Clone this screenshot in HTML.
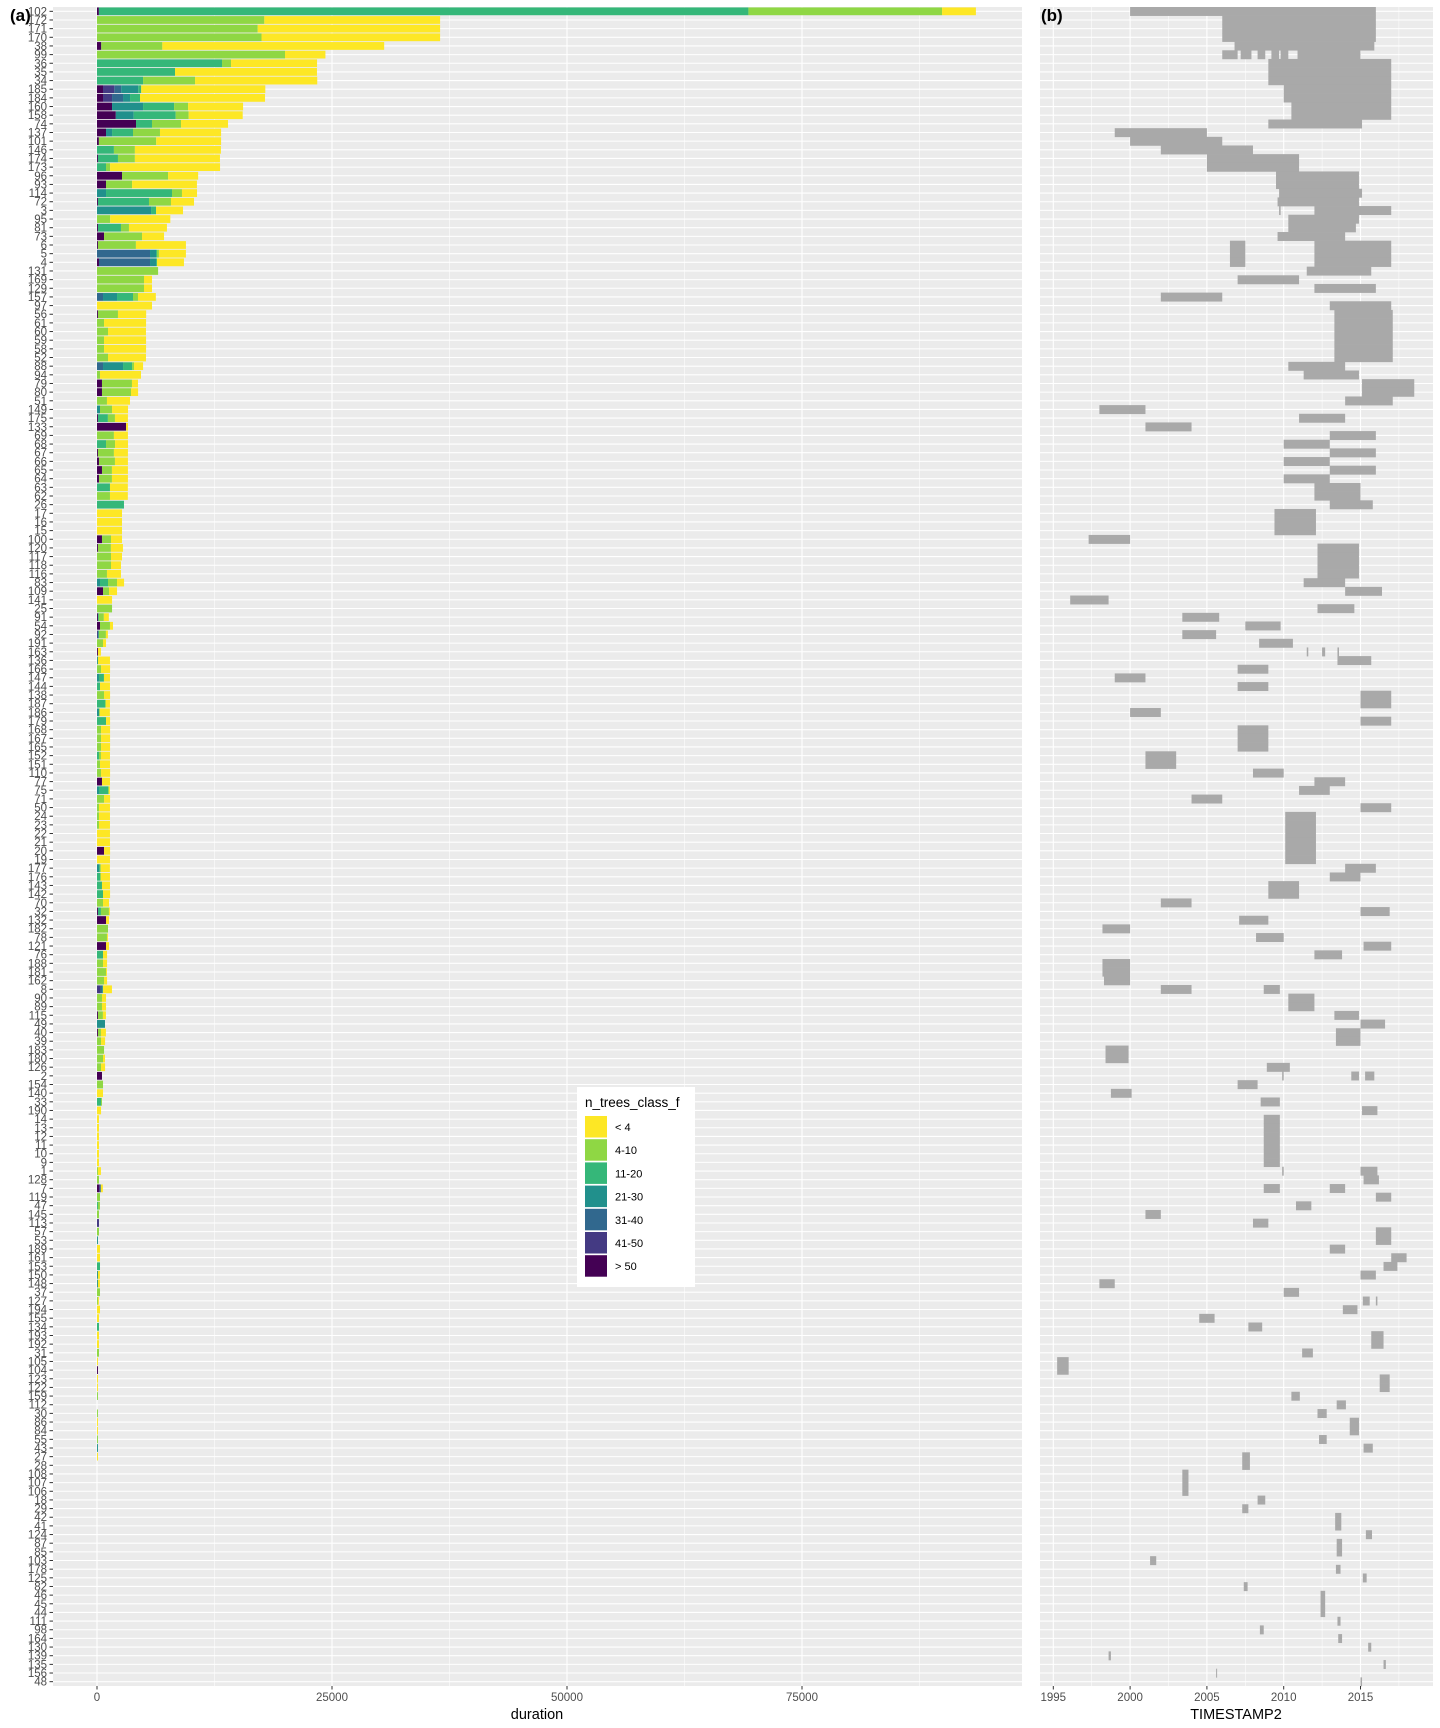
<!DOCTYPE html>
<html><head><meta charset="utf-8"><style>
html,body{margin:0;padding:0;background:#fff;}
svg{display:block;font-family:"Liberation Sans",Arial,sans-serif;}
</style></head><body>
<svg id="chart" width="1440" height="1728" viewBox="0 0 1440 1728" xmlns="http://www.w3.org/2000/svg">
<g id="panelA"></g>
<g id="panelB"></g>
<g id="legend"></g>
</svg>
<script>
const classNames = ["> 50","41-50","31-40","21-30","11-20","4-10","< 4"];
const classColors = ["#440154","#443A83","#31688E","#21908C","#35B779","#8FD744","#FDE725"];
const legendOrder = [6,5,4,3,2,1,0];
const durationTicks = [0,25000,50000,75000];
const yearTicks = [1995,2000,2005,2010,2015];
// categories (top to bottom)
const categories = [102,172,171,170,38,99,36,35,34,185,184,160,158,74,137,101,146,174,173,96,93,114,72,3,95,81,73,6,5,4,131,169,129,157,97,56,61,60,59,58,52,88,94,79,80,51,149,175,133,69,68,67,66,65,64,63,62,26,17,16,15,100,120,117,118,116,83,109,141,25,91,54,92,191,163,136,166,147,144,138,187,186,179,168,167,165,152,151,110,77,75,71,50,24,23,22,21,20,19,177,176,143,142,70,32,132,182,78,121,76,188,181,162,8,90,89,115,49,40,39,183,180,126,2,154,140,33,190,14,13,12,11,10,9,1,128,7,119,47,145,113,57,53,189,161,153,150,148,37,127,194,155,134,193,192,31,105,104,123,122,159,112,30,86,84,55,43,27,28,108,107,106,18,29,42,41,124,87,85,103,178,125,82,46,45,44,111,98,164,130,139,135,156,48];
// duration per class: [>50, 41-50, 31-40, 21-30, 11-20, 4-10, <4]
const durations = {
102:[200,0,0,0,69100,20600,3600],172:[0,0,0,0,0,17800,18700],171:[0,0,0,0,0,17100,19400],170:[0,0,0,0,0,17500,19000],
38:[450,0,0,0,0,6500,23600],99:[0,0,0,0,0,20000,4300],36:[0,0,0,0,13300,960,9150],35:[0,0,0,0,8300,0,15100],
34:[0,0,0,0,4900,5530,13000],185:[640,1200,745,1800,320,0,13200],184:[640,960,1170,745,1060,0,13300],
160:[1600,0,0,3300,3300,1490,5850],158:[2000,0,0,1900,4470,1380,5750],74:[4150,0,0,0,1700,3090,5000],
137:[960,0,0,640,2230,2870,6500],101:[200,0,0,0,0,6100,6900],146:[0,0,0,0,1800,2230,9150],174:[100,0,0,0,2130,1800,9050],
173:[0,0,0,0,960,430,11700],96:[2660,0,0,0,0,4900,3200],93:[960,0,0,0,0,2770,6900],114:[0,0,0,960,7020,1060,1600],
72:[100,0,0,0,5430,2340,2450],3:[0,0,0,5750,530,0,2870],95:[0,0,0,0,0,1400,6400],81:[100,0,0,0,2450,850,4040],
73:[750,0,0,0,0,4040,2340],6:[100,0,0,0,0,4040,5320],5:[0,0,5640,640,100,210,2870],4:[210,0,5430,640,100,0,2870],
131:[0,0,0,0,0,6500,0],169:[0,0,0,0,0,5000,850],129:[0,0,0,0,0,5000,850],157:[0,0,640,1490,1700,530,1900],
97:[0,0,0,0,0,0,5850],56:[100,0,0,0,0,2130,3000],61:[0,0,0,0,0,750,4470],60:[0,0,0,0,0,1170,4040],
59:[0,0,0,0,0,750,4470],58:[0,0,0,0,0,750,4470],52:[0,0,0,0,0,1170,4040],88:[0,0,640,2130,960,210,960],
94:[0,0,0,0,0,320,4360],79:[530,0,0,0,0,3190,640],80:[530,0,0,0,0,3090,750],51:[0,0,0,0,0,1060,2450],
149:[0,0,0,320,0,1280,1700],175:[100,0,0,0,1060,750,1380],133:[3090,0,0,0,0,0,210],69:[0,0,0,0,0,1800,1490],
68:[0,0,0,0,960,960,1380],67:[100,0,0,0,0,1700,1490],66:[210,0,0,0,0,1700,1380],65:[530,0,0,0,0,1060,1700],
64:[210,0,0,0,0,1380,1700],63:[0,0,0,0,1380,0,1900],62:[0,0,0,0,0,1380,1900],26:[0,0,0,0,2870,0,0],
17:[0,0,0,0,0,0,2660],16:[0,0,0,0,0,0,2660],15:[0,0,0,0,0,0,2660],100:[530,0,0,0,0,960,1170],
120:[100,0,0,0,0,1380,1280],117:[0,0,0,0,0,1490,1170],118:[0,0,0,0,0,1490,1060],116:[0,0,0,0,0,1060,1490],
83:[0,0,0,320,850,960,750],109:[640,0,0,0,0,640,850],141:[0,0,0,0,0,0,1600],25:[0,0,0,0,0,1600,0],
91:[100,0,0,0,100,530,530],54:[320,0,0,0,0,1060,320],92:[0,100,0,100,0,750,210],191:[0,0,0,0,0,640,320],
163:[100,0,0,0,0,0,320],136:[0,0,0,100,0,0,1280],166:[0,0,0,0,0,430,960],147:[0,0,0,210,530,0,640],
144:[0,0,0,0,320,0,1060],138:[0,0,0,0,0,750,640],187:[0,0,0,0,850,100,430],186:[0,0,0,210,0,100,1060],
179:[0,0,0,0,960,0,430],168:[0,0,0,0,0,430,960],167:[0,0,0,0,0,430,960],165:[0,0,0,0,0,430,960],
152:[0,0,0,0,210,210,960],151:[0,0,0,0,0,320,1060],110:[0,0,0,0,0,430,960],77:[530,0,0,0,0,0,850],
75:[0,0,0,210,960,100,100],71:[0,0,0,0,0,750,640],50:[0,0,0,0,0,210,1170],24:[0,0,0,0,0,210,1170],
23:[0,0,0,0,0,210,1170],22:[0,0,0,0,0,0,1380],21:[0,0,0,0,0,0,1380],20:[750,0,0,0,0,0,640],19:[0,0,0,0,0,0,1380],
177:[0,0,0,210,100,100,960],176:[0,0,0,0,320,100,960],143:[0,0,0,0,530,0,850],142:[0,0,0,0,640,0,750],
70:[0,0,0,0,0,640,640],32:[100,0,0,0,320,850,100],132:[960,0,0,0,0,0,320],182:[0,0,0,0,0,1170,0],
78:[0,0,0,0,0,1060,100],121:[960,0,0,0,0,0,320],76:[0,0,0,0,640,0,430],188:[0,0,0,0,0,640,430],
181:[0,0,0,0,0,960,100],162:[0,0,0,0,0,750,320],8:[0,320,210,100,0,0,960],90:[0,0,0,0,0,530,430],
89:[0,0,0,0,0,530,430],115:[100,0,0,0,0,530,320],49:[0,0,0,850,0,0,0],40:[100,0,0,0,0,320,530],
39:[0,0,0,0,0,430,430],183:[0,0,0,0,0,750,0],180:[0,0,0,0,0,640,210],126:[0,0,0,0,0,430,430],
2:[530,0,0,0,0,0,0],154:[0,0,0,0,0,640,0],140:[0,0,0,0,0,0,640],33:[0,0,0,0,430,100,0],190:[0,0,0,0,0,0,430],
14:[0,0,0,0,0,0,210],13:[0,0,0,0,0,0,210],12:[0,0,0,0,0,0,210],11:[0,0,0,0,0,0,210],10:[0,0,0,0,0,0,210],9:[0,0,0,0,0,0,210],
1:[0,0,0,0,0,100,320],128:[0,0,0,0,0,210,0],7:[210,100,100,0,0,0,210],119:[0,0,0,0,0,320,0],
47:[0,0,0,0,100,210,0],145:[0,0,0,0,0,210,0],113:[0,210,0,0,0,0,0],57:[0,0,0,0,0,210,0],53:[0,0,0,100,0,0,0],
189:[0,0,0,0,0,0,320],161:[0,0,0,0,0,0,320],153:[0,0,0,0,320,0,0],150:[0,0,0,100,0,0,210],148:[0,0,0,100,0,0,210],
37:[0,0,0,0,0,320,0],127:[0,0,0,0,0,100,100],194:[0,0,0,0,0,0,320],155:[0,0,0,0,0,0,210],134:[0,0,0,0,210,0,0],
193:[0,0,0,0,0,0,210],192:[0,0,0,0,0,0,210],31:[0,0,0,0,0,210,0],105:[0,0,0,0,0,0,100],104:[100,0,0,0,0,0,0],
123:[0,0,0,0,0,0,100],122:[0,0,0,0,0,0,100],159:[0,0,0,0,0,100,0],30:[0,0,0,0,0,100,0],86:[0,0,0,0,0,0,100],
84:[0,0,0,0,0,0,100],55:[0,0,0,0,0,100,0],43:[0,0,0,100,0,0,0],27:[0,0,0,0,0,0,100]
};
// TIMESTAMP2 intervals: [category, startYear, endYear]
const intervals = [
[102,2000.0,2016.0],[172,2006.0,2016.0],[171,2006.0,2016.0],[170,2006.0,2016.0],[38,2006.8,2015.9],
[99,2006.0,2007.0],[99,2007.2,2007.9],[99,2008.3,2008.8],[99,2009.2,2009.7],[99,2009.8,2010.3],[99,2010.9,2015.0],
[36,2009.0,2017.0],[35,2009.0,2017.0],[34,2009.0,2017.0],[185,2010.0,2017.0],[184,2010.0,2017.0],
[160,2010.5,2017.0],[158,2010.5,2017.0],[74,2009.0,2015.1],[137,1999.0,2005.0],[101,2000.0,2006.0],
[146,2002.0,2008.0],[174,2005.0,2011.0],[173,2005.0,2011.0],[96,2009.5,2014.9],[93,2009.5,2014.9],
[114,2009.7,2015.1],[72,2009.6,2014.9],[3,2009.7,2009.8],[3,2012.0,2017.0],[95,2010.3,2014.9],[81,2010.3,2014.7],
[73,2009.6,2014.0],[6,2006.5,2007.5],[6,2012.0,2017.0],[5,2006.5,2007.5],[5,2012.0,2017.0],[4,2006.5,2007.5],[4,2012.0,2017.0],
[131,2011.5,2015.7],[169,2007.0,2011.0],[129,2012.0,2016.0],[157,2002.0,2006.0],[97,2013.0,2017.0],
[56,2013.3,2017.1],[61,2013.3,2017.1],[60,2013.3,2017.1],[59,2013.3,2017.1],[58,2013.3,2017.1],[52,2013.3,2017.1],
[88,2010.3,2014.0],[94,2011.3,2014.9],[79,2015.1,2018.5],[80,2015.1,2018.5],[51,2014.0,2017.1],[149,1998.0,2001.0],
[175,2011.0,2014.0],[133,2001.0,2004.0],[69,2013.0,2016.0],[68,2010.0,2013.0],[67,2013.0,2016.0],[66,2010.0,2013.0],
[65,2013.0,2016.0],[64,2010.0,2013.0],[63,2012.0,2015.0],[62,2012.0,2015.0],[26,2013.0,2015.8],
[17,2009.4,2012.1],[16,2009.4,2012.1],[15,2009.4,2012.1],[100,1997.3,2000.0],[120,2012.2,2014.9],[117,2012.2,2014.9],
[118,2012.2,2014.9],[116,2012.2,2014.9],[83,2011.3,2014.0],[109,2014.0,2016.4],[141,1996.1,1998.6],[25,2012.2,2014.6],
[91,2003.4,2005.8],[54,2007.5,2009.8],[92,2003.4,2005.6],[191,2008.4,2010.6],[163,2011.5,2011.6],[163,2012.5,2012.7],[163,2013.5,2013.6],
[136,2013.5,2015.7],[166,2007.0,2009.0],[147,1999.0,2001.0],[144,2007.0,2009.0],[138,2015.0,2017.0],[187,2015.0,2017.0],
[186,2000.0,2002.0],[179,2015.0,2017.0],[168,2007.0,2009.0],[167,2007.0,2009.0],[165,2007.0,2009.0],
[152,2001.0,2003.0],[151,2001.0,2003.0],[110,2008.0,2010.0],[77,2012.0,2014.0],[75,2011.0,2013.0],[71,2004.0,2006.0],
[50,2015.0,2017.0],[24,2010.1,2012.1],[23,2010.1,2012.1],[22,2010.1,2012.1],[21,2010.1,2012.1],[20,2010.1,2012.1],[19,2010.1,2012.1],
[177,2014.0,2016.0],[176,2013.0,2015.0],[143,2009.0,2011.0],[142,2009.0,2011.0],[70,2002.0,2004.0],[32,2015.0,2016.9],
[132,2007.1,2009.0],[182,1998.2,2000.0],[78,2008.2,2010.0],[121,2015.2,2017.0],[76,2012.0,2013.8],
[188,1998.2,2000.0],[181,1998.2,2000.0],[162,1998.3,2000.0],[8,2002.0,2004.0],[8,2008.7,2009.75],
[90,2010.3,2012.0],[89,2010.3,2012.0],[115,2013.3,2014.9],[49,2015.0,2016.6],[40,2013.4,2015.0],[39,2013.4,2015.0],
[183,1998.4,1999.9],[180,1998.4,1999.9],[126,2008.9,2010.4],[2,2009.9,2010.0],[2,2014.4,2014.9],[2,2015.3,2015.9],
[154,2007.0,2008.3],[140,1998.75,2000.1],[33,2008.5,2009.75],[190,2015.1,2016.1],
[14,2008.7,2009.75],[13,2008.7,2009.75],[12,2008.7,2009.75],[11,2008.7,2009.75],[10,2008.7,2009.75],[9,2008.7,2009.75],
[1,2009.9,2010.0],[1,2015.0,2016.1],[128,2015.2,2016.2],[7,2008.7,2009.75],[7,2013.0,2014.0],[119,2016.0,2017.0],
[47,2010.8,2011.8],[145,2001.0,2002.0],[113,2008.0,2009.0],[57,2016.0,2017.0],[53,2016.0,2017.0],[189,2013.0,2014.0],
[161,2017.0,2018.0],[153,2016.5,2017.4],[150,2015.0,2016.0],[148,1998.0,1999.0],[37,2010.0,2011.0],
[127,2015.15,2015.6],[127,2016.0,2016.1],[194,2013.85,2014.8],[155,2004.5,2005.5],[134,2007.7,2008.6],
[193,2015.7,2016.5],[192,2015.7,2016.5],[31,2011.2,2011.9],[105,1995.25,1996.0],[104,1995.25,1996.0],
[123,2016.25,2016.9],[122,2016.25,2016.9],[159,2010.5,2011.05],[112,2013.45,2014.05],[30,2012.2,2012.8],
[86,2014.3,2014.9],[84,2014.3,2014.9],[55,2012.3,2012.8],[43,2015.2,2015.8],[27,2007.3,2007.8],[28,2007.3,2007.8],
[108,2003.4,2003.8],[107,2003.4,2003.8],[106,2003.4,2003.8],[18,2008.3,2008.8],[29,2007.3,2007.7],
[42,2013.35,2013.75],[41,2013.35,2013.75],[124,2015.35,2015.75],[87,2013.45,2013.8],[85,2013.45,2013.8],
[103,2001.3,2001.7],[178,2013.4,2013.7],[125,2015.15,2015.4],[82,2007.4,2007.65],[46,2012.4,2012.7],
[45,2012.4,2012.7],[44,2012.4,2012.7],[111,2013.5,2013.7],[98,2008.45,2008.7],[164,2013.55,2013.8],
[130,2015.5,2015.7],[139,1998.6,1998.75],[135,2016.5,2016.65],[156,2005.6,2005.65],[48,2015.0,2015.1]
];

const NS="http://www.w3.org/2000/svg";
function mk(parent,tag,attrs,text){const e=document.createElementNS(NS,tag);for(const k in attrs)e.setAttribute(k,attrs[k]);if(text!==undefined)e.textContent=text;parent.appendChild(e);return e;}
const TOP=7, BOT=1686, N=categories.length, PITCH=(BOT-TOP)/N;
function yC(i){return TOP+(i+0.5)*PITCH;}
const A={x0:53,x1:1022}; const B={x0:1040,x1:1433};
function xA(v){return 97+v*235/25000;}
function xB(y){return 1053.3+(y-1995)*15.36;}
const gA=document.getElementById('panelA'), gB=document.getElementById('panelB'), gL=document.getElementById('legend');
const svg=document.getElementById('chart');

function panelBg(g,p,minorXs,majorXs,name){
  const bg=mk(g,'rect',{x:p.x0,y:TOP,width:p.x1-p.x0,height:BOT-TOP,fill:'#EBEBEB'});
  
  
  minorXs.forEach(x=>{mk(g,'line',{x1:x,x2:x,y1:TOP,y2:BOT,stroke:'#fff','stroke-width':0.55});});
  for(let i=0;i<N;i++){const y=yC(i);mk(g,'line',{x1:p.x0,x2:p.x1,y1:y,y2:y,stroke:'#fff','stroke-width':1.07});}
  majorXs.forEach(x=>{mk(g,'line',{x1:x,x2:x,y1:TOP,y2:BOT,stroke:'#fff','stroke-width':1.07});});
}
panelBg(gA,A,[12500,37500,62500,87500].map(xA),durationTicks.map(xA),'panel-a');
panelBg(gB,B,[1997.5,2002.5,2007.5,2012.5,2017.5].map(xB),yearTicks.map(xB),'panel-b');

// stacked bars
categories.forEach((c,i)=>{
  const vals=durations[c]; if(!vals) return;
  let acc=0; const h=PITCH*0.9;
  vals.forEach((v,k)=>{ if(v<=0) return;
    const r=mk(gA,'rect',{x:xA(acc),y:yC(i)-h/2,width:xA(acc+v)-xA(acc),height:h,fill:classColors[k]});
    
    
    acc+=v; });
});
// intervals
const catIndex={}; categories.forEach((c,i)=>catIndex[c]=i);
intervals.forEach(([c,s,e])=>{
  const i=catIndex[c];
  const r=mk(gB,'rect',{x:xB(s),y:yC(i)-PITCH/2,width:Math.max(1,xB(e)-xB(s)),height:PITCH+0.3,fill:'#A9A9A9'});
  
  
});
// y axis labels
categories.forEach((c,i)=>{
  const y=yC(i);
  mk(gA,'line',{x1:49.5,x2:53,y1:y,y2:y,stroke:'#333','stroke-width':1});
  const t=mk(gA,'text',{x:47,y:y+4,'text-anchor':'end','font-size':11.5,fill:'#4d4d4d'},String(c));
  
  
});
// x axes
durationTicks.forEach(v=>{const x=xA(v);mk(gA,'line',{x1:x,x2:x,y1:BOT,y2:BOT+3.5,stroke:'#333'});
  const t=mk(gA,'text',{x:x,y:1701,'text-anchor':'middle','font-size':11.5,fill:'#4d4d4d'},String(v));
  
  });
yearTicks.forEach(v=>{const x=xB(v);mk(gB,'line',{x1:x,x2:x,y1:BOT,y2:BOT+3.5,stroke:'#333'});
  const t=mk(gB,'text',{x:x,y:1701,'text-anchor':'middle','font-size':11.5,fill:'#4d4d4d'},String(v));
  
  });
let t=mk(gA,'text',{x:537,y:1719,'text-anchor':'middle','font-size':14.5,fill:'#000'},'duration');


t=mk(gB,'text',{x:1236,y:1719,'text-anchor':'middle','font-size':14.5,fill:'#000'},'TIMESTAMP2');


t=mk(svg,'text',{x:10,y:21,'font-size':17,'font-weight':'bold',fill:'#000'},'(a)');


t=mk(svg,'text',{x:1041,y:21,'font-size':17,'font-weight':'bold',fill:'#000'},'(b)');


// legend
mk(gL,'rect',{x:577,y:1087,width:118,height:200,fill:'#fff'});
t=mk(gL,'text',{x:585,y:1107,'font-size':13.5,fill:'#000'},'n_trees_class_f');


legendOrder.forEach((k,j)=>{
  const y=1116+j*23.2;
  const g=mk(gL,'g',{});
  
  
  mk(g,'rect',{x:585,y:y,width:22,height:21.5,fill:classColors[k]});
  mk(g,'text',{x:615,y:y+15,'font-size':11,fill:'#000'},classNames[k]);
});
</script>
</body></html>
